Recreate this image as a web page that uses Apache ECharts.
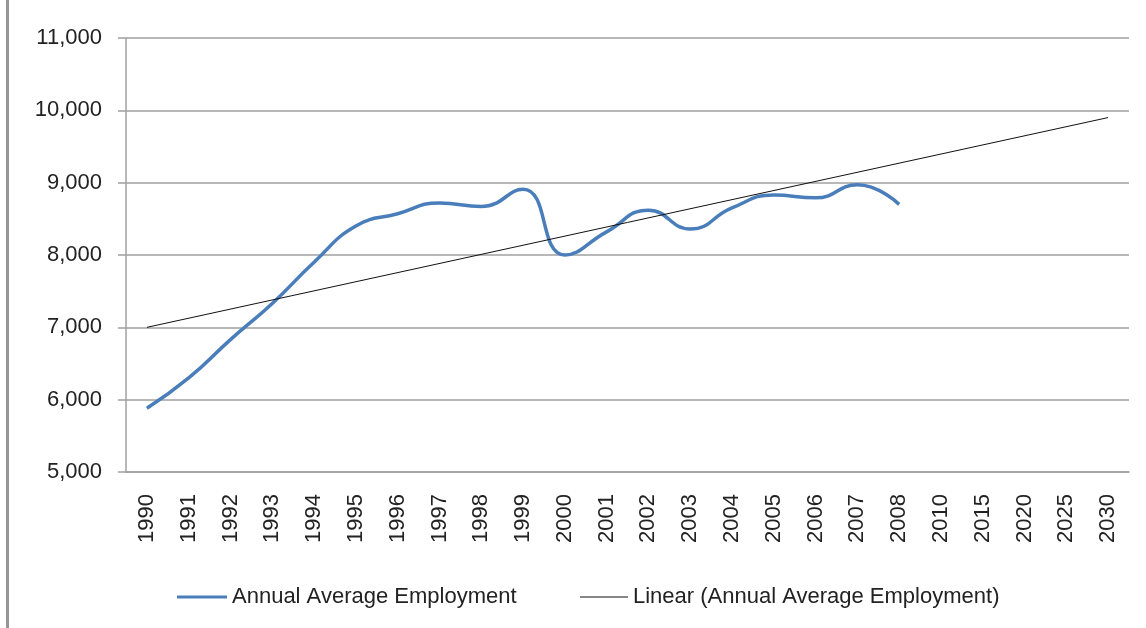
<!DOCTYPE html>
<html>
<head>
<meta charset="UTF-8">
<title>Annual Average Employment</title>
<script type="text/javascript" src="https://cdn.jsdelivr.net/npm/echarts@6/dist/echarts.min.js"></script>
</head>
<body style="margin:0;">
<div id="container" style="width:1146px;height:628px;"></div>
<script type="text/javascript">
var years = ['1990', '1991', '1992', '1993', '1994', '1995', '1996', '1997', '1998', '1999',
  '2000', '2001', '2002', '2003', '2004', '2005', '2006', '2007', '2008',
  '2010', '2015', '2020', '2025', '2030'];
// annual average employment (no values for the forecast years)
var employment = [5880, 6300, 6830, 7330, 7900, 8400, 8570, 8720, 8670, 8910,
  8000, 8320, 8620, 8360, 8650, 8830, 8790, 8970, 8700,
  null, null, null, null, null];
// linear trend line: only its two ends are known
var trendStart = 7000;
var trendEnd = 9900;
var trend = years.map(function (y, i) {
  if (i === 0) return trendStart;
  if (i === years.length - 1) return trendEnd;
  return null;
});

var dom = document.getElementById('container');
var myChart = echarts.init(dom);
var font = 'Liberation Sans';
var legendText = { fontSize: 22, color: '#222', fontFamily: font };

var option = {
  animation: false,
  backgroundColor: '#fff',
  textStyle: { fontFamily: font },
  graphic: [{
    type: 'rect',
    shape: { x: 6, y: 0, width: 3, height: 628 },
    style: { fill: '#959595' }
  }],
  grid: { left: 126, right: 17, top: 38, bottom: 156 },
  legend: [
    {
      left: 172, top: 581,
      icon: 'rect', itemWidth: 50, itemHeight: 3, itemGap: 5,
      textStyle: legendText,
      data: ['Annual Average Employment']
    },
    {
      left: 575, top: 581,
      icon: 'rect', itemWidth: 48, itemHeight: 1, itemGap: 5,
      textStyle: legendText,
      data: ['Linear (Annual Average Employment)']
    }
  ],
  xAxis: {
    type: 'category',
    data: years,
    boundaryGap: true,
    axisLine: { lineStyle: { color: '#a0a0a0', width: 1.5 } },
    axisTick: { show: false },
    axisLabel: { rotate: 90, margin: 22, fontSize: 22, color: '#222', fontFamily: font }
  },
  yAxis: {
    type: 'value',
    min: 5000,
    max: 11000,
    interval: 1000,
    axisLine: { show: true, lineStyle: { color: '#a0a0a0', width: 1.5 } },
    axisTick: { show: true, length: 8, lineStyle: { color: '#a0a0a0', width: 1.5 } },
    splitLine: { lineStyle: { color: '#a0a0a0', width: 1.5 } },
    axisLabel: {
      margin: 24, fontSize: 22, color: '#222', fontFamily: font,
      formatter: function (v) { return v.toLocaleString('en-US'); }
    }
  },
  series: [
    {
      name: 'Annual Average Employment',
      type: 'line',
      data: employment,
      smooth: 0.5,
      symbol: 'none',
      lineStyle: { color: '#4A7EBB', width: 3.5 },
      itemStyle: { color: '#4A7EBB' }
    },
    {
      name: 'Linear (Annual Average Employment)',
      type: 'line',
      data: trend,
      connectNulls: true,
      symbol: 'none',
      lineStyle: { color: '#111', width: 1 },
      itemStyle: { color: '#111' }
    }
  ]
};

myChart.setOption(option);
</script>
</body>
</html>
